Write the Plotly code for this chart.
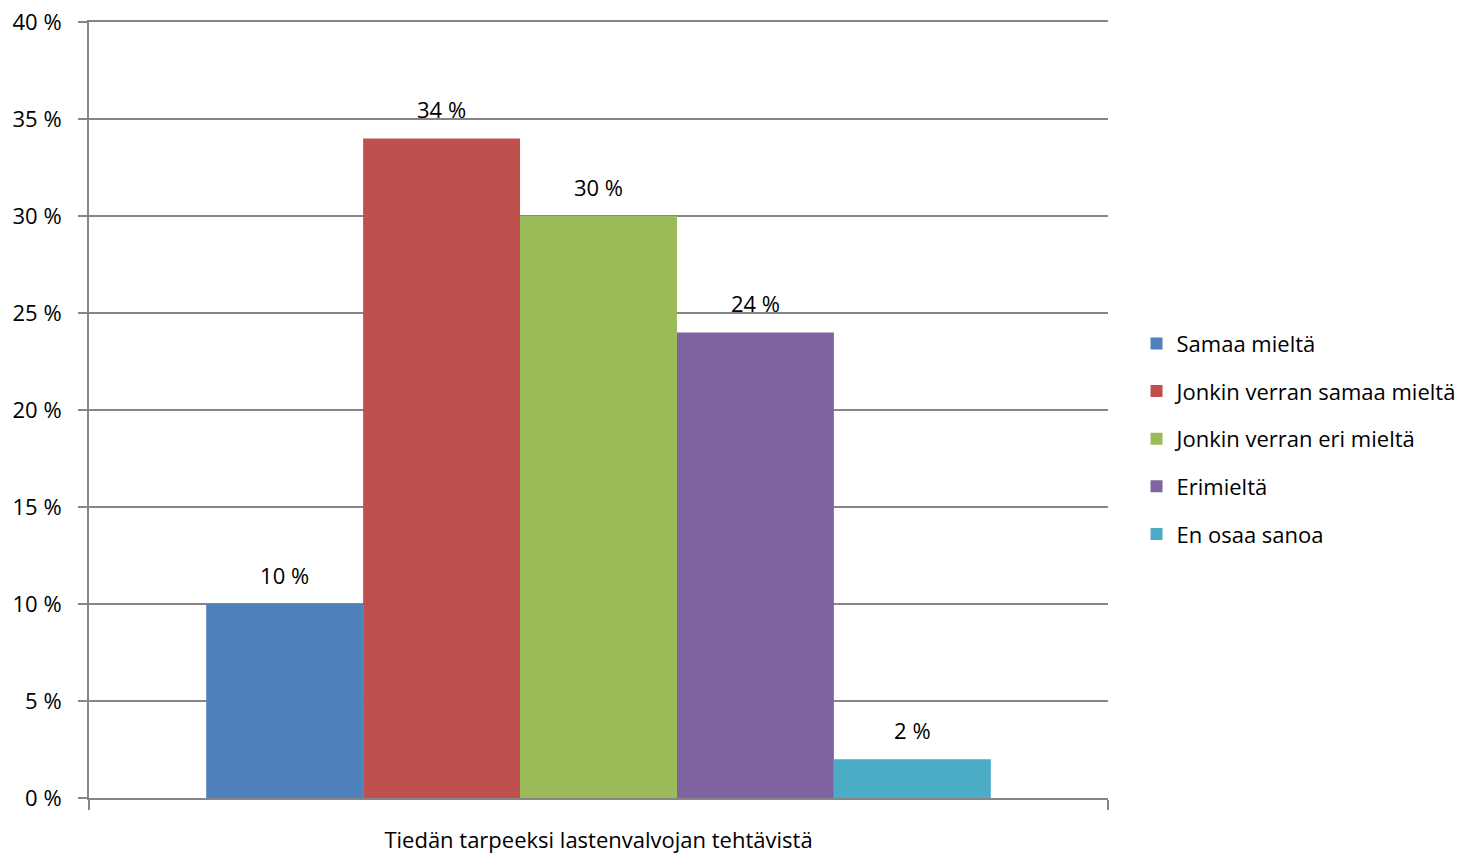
import plotly.graph_objects as go

category = ["Tiedän tarpeeksi lastenvalvojan tehtävistä"]
series_names = ["Samaa mieltä", "Jonkin verran samaa mieltä", "Jonkin verran eri mieltä", "Erimieltä", "En osaa sanoa"]
series_values = [10, 34, 30, 24, 2]
colors = ["#4F81BD", "#C0504D", "#9BBB59", "#8064A2", "#4BACC6"]
y_ticks = [0, 5, 10, 15, 20, 25, 30, 35, 40]
y_tick_labels = [f"{v} %" for v in y_ticks]

FONT = "Open Sans, Liberation Sans, sans-serif"

fig = go.Figure()
for i, (name, val, col) in enumerate(zip(series_names, series_values, colors)):
    fig.add_trace(go.Bar(
        x=category, y=[val], name=name,
        marker=dict(color=col, line=dict(width=0)),
        offsetgroup=str(i), alignmentgroup="a",
        legendgroup=str(i),
    ))
for i, (name, val) in enumerate(zip(series_names, series_values)):
    fig.add_trace(go.Scatter(
        x=category, y=[val], mode="markers+text",
        text=[f"{val} %"], textposition="top center",
        textfont=dict(size=22, color="#000000", family=FONT),
        marker=dict(size=22, opacity=0),
        offsetgroup=str(i), alignmentgroup="a",
        showlegend=False, hoverinfo="skip", cliponaxis=False,
    ))

fig.update_layout(
    width=1474, height=854,
    barmode="group", bargap=0.23, bargroupgap=0,
    scattermode="group", scattergap=0.23,
    plot_bgcolor="white", paper_bgcolor="white",
    margin=dict(l=89, r=366, t=22, b=56, autoexpand=False),
    font=dict(family=FONT, size=22, color="#000000"),
    legend=dict(x=1.028, y=0.463, xanchor="left", yanchor="middle",
                font=dict(size=22, family=FONT), tracegroupgap=16,
                itemwidth=30),
    showlegend=True,
)
fig.update_xaxes(
    showline=True, linecolor="#868686", linewidth=2, automargin=False, mirror=True,
    ticks="outside", tickson="boundaries", ticklen=10, tickcolor="#868686", tickwidth=2,
    tickfont=dict(size=22, family=FONT), showgrid=False, ticklabelstandoff=22,
)
fig.update_yaxes(
    range=[0, 40], tickvals=y_ticks, ticktext=y_tick_labels, automargin=False,
    showline=True, linecolor="#868686", linewidth=2,
    ticks="outside", ticklen=9, tickcolor="#868686", tickwidth=2,
    showgrid=True, gridcolor="#868686", gridwidth=1.5, zeroline=False,
    tickfont=dict(size=22, family=FONT), ticklabelstandoff=12,
    ticklabeloverflow="allow",
)
fig.write_html("out.html", config={"displayModeBar": False},
               post_script="document.body.style.margin='0';document.body.style.overflow='hidden';")
